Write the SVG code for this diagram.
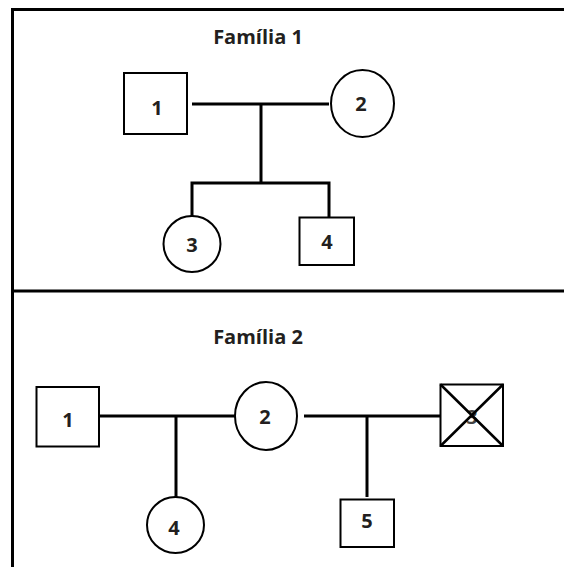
<svg xmlns="http://www.w3.org/2000/svg" width="564" height="567" viewBox="0 0 564 567">
  <style>
    .frame { fill: none; stroke: #000; stroke-width: 3; }
    .shape { fill: #fff; stroke: #000; stroke-width: 2; }
    .link { fill: none; stroke: #000; stroke-width: 3; }
    .mark { fill: none; stroke: #000; stroke-width: 2.5; }
    .lbl { font-family: "Open Sans", "Liberation Sans", sans-serif; font-weight: 700; font-size: 20px; fill: #231f20; text-anchor: middle; }
  </style>
  <rect width="564" height="567" fill="#fff"/>

  <!-- panel frame -->
  <g id="frame">
    <path class="frame" d="M12.5 567 V9.5 H566"/>
    <path class="frame" d="M12.5 291 H566"/>
  </g>

  <!-- Family 1 connectors -->
  <g id="connectors-1">
    <path class="link" d="M192 104 H329"/>
    <path class="link" d="M261 104 V183"/>
    <path class="link" d="M192 216 V183 H329 V217"/>
  </g>

  <!-- Family 2 connectors -->
  <g id="connectors-2">
    <path class="link" d="M99 416 H235"/>
    <path class="link" d="M176 416 V498"/>
    <path class="link" d="M304 416 H440"/>
    <path class="link" d="M367 416 V497"/>
  </g>

  <text class="lbl" x="258" y="44">Família 1</text>
  <text class="lbl" x="258" y="344">Família 2</text>

  <g id="f1-n1">
    <rect class="shape" x="124" y="73" width="63" height="61"/>
    <text class="lbl" x="157" y="115">1</text>
  </g>
  <g id="f1-n2">
    <ellipse class="shape" cx="362.5" cy="103.5" rx="31.5" ry="33.5"/>
    <text class="lbl" x="361" y="111">2</text>
  </g>
  <g id="f1-n3">
    <ellipse class="shape" cx="192" cy="244" rx="28.5" ry="28"/>
    <text class="lbl" x="192" y="252">3</text>
  </g>
  <g id="f1-n4">
    <rect class="shape" x="299.5" y="217.5" width="54.5" height="47.5"/>
    <text class="lbl" x="327" y="249">4</text>
  </g>

  <g id="f2-n1">
    <rect class="shape" x="36.5" y="387" width="62.5" height="59.5"/>
    <text class="lbl" x="68" y="427">1</text>
  </g>
  <g id="f2-n2">
    <ellipse class="shape" cx="266" cy="416" rx="31" ry="34"/>
    <text class="lbl" x="265" y="424">2</text>
  </g>
  <g id="f2-n3">
    <rect class="shape" x="440.5" y="384.5" width="62.5" height="61.5"/>
    <text class="lbl" x="472" y="424" fill-opacity="0.85">3</text>
    <path class="mark" d="M440.5 384.5 L503 446 M503 384.5 L440.5 446"/>
  </g>
  <g id="f2-n4">
    <ellipse class="shape" cx="175.5" cy="525" rx="28.5" ry="28"/>
    <text class="lbl" x="174" y="535">4</text>
  </g>
  <g id="f2-n5">
    <rect class="shape" x="340.5" y="499.5" width="53.5" height="47.5"/>
    <text class="lbl" x="367" y="528">5</text>
  </g>
</svg>
